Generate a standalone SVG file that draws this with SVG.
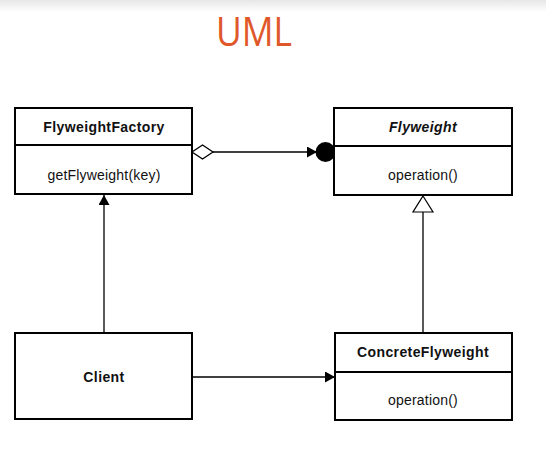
<svg xmlns="http://www.w3.org/2000/svg" width="546" height="458" viewBox="0 0 546 458">
<defs>
<linearGradient id="topshade" x1="0" y1="0" x2="0" y2="1">
<stop offset="0" stop-color="#e6e6e6"/>
<stop offset="1" stop-color="#ffffff"/>
</linearGradient>
<marker id="filled" markerWidth="10" markerHeight="11" refX="10" refY="5.5" orient="auto" markerUnits="userSpaceOnUse">
<path d="M0,0 L10,5.5 L0,11 Z" fill="#000"/>
</marker>
</defs>
<style>
.box{fill:#fff;stroke:#000;stroke-width:2}
.div{stroke:#000;stroke-width:2}
.name{font-family:"Liberation Sans",Arial,sans-serif;font-size:14px;font-weight:bold;text-anchor:middle;letter-spacing:0.4px;fill:#111}
.op{font-family:"Liberation Sans",Arial,sans-serif;font-size:14px;text-anchor:middle;letter-spacing:0.2px;fill:#111}
.ln{fill:none;stroke:#000;stroke-width:1.3}
</style>
<rect x="0" y="0" width="546" height="458" fill="#fff"/>
<rect x="0" y="0" width="546" height="12" fill="url(#topshade)"/>
<text x="254" y="46" font-family="'Open Sans','Noto Sans',sans-serif" font-size="41" fill="#E0582A" text-anchor="middle" textLength="76" lengthAdjust="spacingAndGlyphs">UML</text>

<g id="connectors">
<path class="ln" d="M213,152 L317,152" marker-end="url(#filled)"/>
<path d="M192,152 L202.5,145 L213,152 L202.5,159 Z" fill="#fff" stroke="#000" stroke-width="1.3"/>
<circle cx="325.5" cy="152" r="10" fill="#000"/>
<path class="ln" d="M104,333 L104,195" marker-end="url(#filled)"/>
<path class="ln" d="M192,377 L335,377" marker-end="url(#filled)"/>
<path class="ln" d="M423,333 L423,212"/>
<path d="M423,196 L433,212 L413,212 Z" fill="#fff" stroke="#000" stroke-width="1.2"/>
</g>

<g id="FlyweightFactory">
<rect class="box" x="15" y="108" width="177" height="86"/>
<line class="div" x1="15" y1="145" x2="192" y2="145"/>
<text class="name" x="104" y="132">FlyweightFactory</text>
<text class="op" x="104" y="180">getFlyweight(key)</text>
</g>

<g id="Flyweight">
<rect class="box" x="334" y="108" width="178" height="87"/>
<line class="div" x1="334" y1="146" x2="512" y2="146"/>
<text class="name" x="423" y="132" font-style="italic">Flyweight</text>
<text class="op" x="423" y="180">operation()</text>
</g>

<g id="Client">
<rect class="box" x="15" y="333" width="177" height="86"/>
<text class="name" x="104" y="382">Client</text>
</g>

<g id="ConcreteFlyweight">
<rect class="box" x="335" y="333" width="177" height="87"/>
<line class="div" x1="335" y1="372" x2="512" y2="372"/>
<text class="name" x="423" y="357">ConcreteFlyweight</text>
<text class="op" x="423" y="405">operation()</text>
</g>
</svg>
